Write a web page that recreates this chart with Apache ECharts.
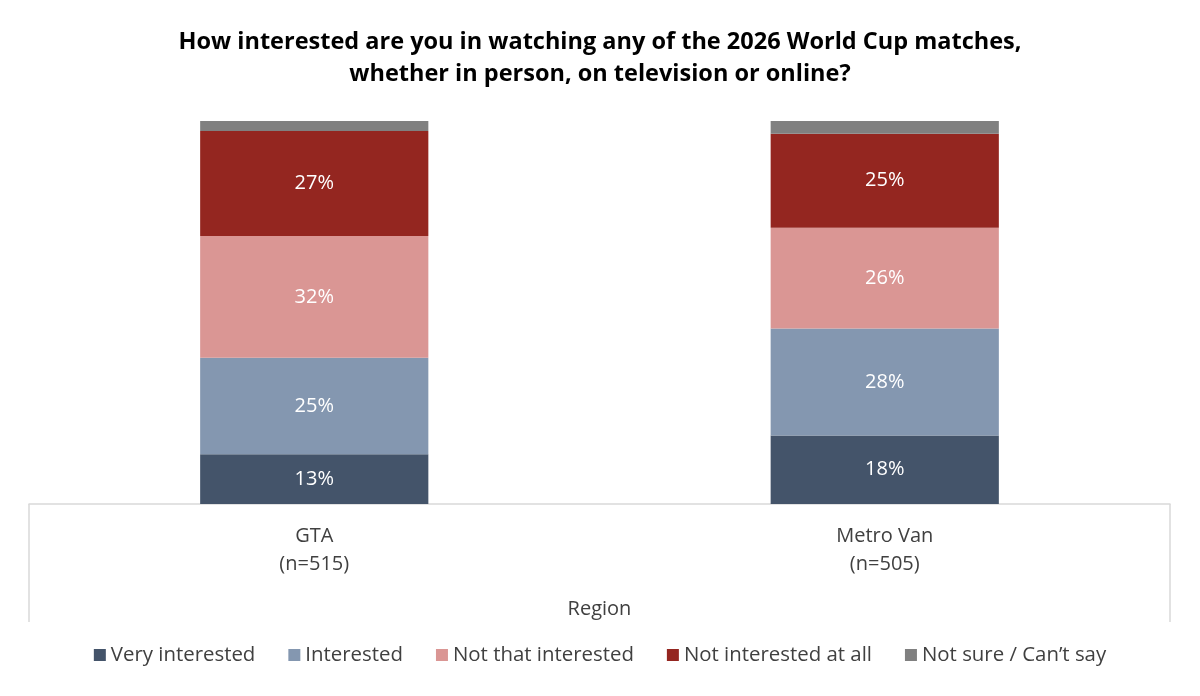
<!DOCTYPE html>
<html>
<head>
<meta charset="utf-8">
<title>2026 World Cup interest</title>
<script src="https://cdn.jsdelivr.net/npm/echarts@6/dist/echarts.min.js"></script>
<style>
  html, body { margin: 0; padding: 0; background: #fff; }
  #chart { width: 1200px; height: 696px; }
</style>
</head>
<body>
<div id="chart"></div>
<script>
var regions = ['GTA\n(n=515)', 'Metro Van\n(n=505)'];
var seriesNames = ['Very interested', 'Interested', 'Not that interested', 'Not interested at all', 'Not sure / Can\u2019t say'];
var veryInterested = [13.0, 17.9];
var interested = [25.2, 27.9];
var notThatInterested = [31.8, 26.3];
var notInterestedAtAll = [27.4, 24.6];
var notSure = [2.6, 3.3];
var colors = ['#44546A', '#8497B0', '#DA9694', '#942620', '#808080'];

var FONT = '"Open Sans", Lato, sans-serif';
var gridLeft = 29, gridRight = 30, gridTop = 121, gridBottom = 192;
var boxBottom = 622;

var chart = echarts.init(document.getElementById('chart'), null, { renderer: 'canvas' });

function makeSeries(name, values, idx, showLabel) {
  return {
    name: name,
    type: 'bar',
    stack: 'total',
    barWidth: '40%',
    data: values,
    itemStyle: { color: colors[idx] },
    label: {
      show: showLabel,
      position: 'inside',
      color: '#ffffff',
      fontFamily: FONT,
      fontSize: 20,
      formatter: function (p) { return Math.round(p.value) + '%'; }
    },
    emphasis: { disabled: true }
  };
}

chart.setOption({
  backgroundColor: '#ffffff',
  animation: false,
  title: {
    text: 'How interested are you in watching any of the 2026 World Cup matches,\nwhether in person, on television or online?',
    left: 'center',
    top: 21,
    textStyle: { fontFamily: FONT, fontWeight: 'bold', fontSize: 23.5, lineHeight: 32, color: '#000' }
  },
  legend: {
    bottom: 26,
    left: 'center',
    itemWidth: 12,
    itemHeight: 12,
    itemGap: 33,
    icon: 'rect',
    textStyle: { fontFamily: FONT, fontSize: 20.4, color: '#404040' },
    data: seriesNames
  },
  grid: { left: gridLeft, right: gridRight, top: gridTop, bottom: gridBottom },
  xAxis: {
    type: 'category',
    data: regions,
    name: 'Region',
    nameLocation: 'middle',
    nameGap: 95,
    nameTextStyle: { fontFamily: FONT, fontSize: 20, color: '#404040' },
    axisLine: { show: true, lineStyle: { color: '#D9D9D9', width: 1.5 } },
    axisTick: { show: false },
    axisLabel: { fontFamily: FONT, fontSize: 20, color: '#404040', lineHeight: 28, margin: 18 }
  },
  yAxis: {
    type: 'value',
    min: 0,
    max: 100,
    show: false,
    splitLine: { show: false }
  },
  graphic: [{
    type: 'polyline',
    silent: true,
    shape: { points: [[gridLeft, 696 - gridBottom], [gridLeft, boxBottom]] },
    style: { stroke: '#D9D9D9', lineWidth: 1.5, fill: null }
  }, {
    type: 'polyline',
    silent: true,
    shape: { points: [[1200 - gridRight, 696 - gridBottom], [1200 - gridRight, boxBottom]] },
    style: { stroke: '#D9D9D9', lineWidth: 1.5, fill: null }
  }],
  series: [
    makeSeries(seriesNames[0], veryInterested, 0, true),
    makeSeries(seriesNames[1], interested, 1, true),
    makeSeries(seriesNames[2], notThatInterested, 2, true),
    makeSeries(seriesNames[3], notInterestedAtAll, 3, true),
    makeSeries(seriesNames[4], notSure, 4, false)
  ]
});
</script>
</body>
</html>
